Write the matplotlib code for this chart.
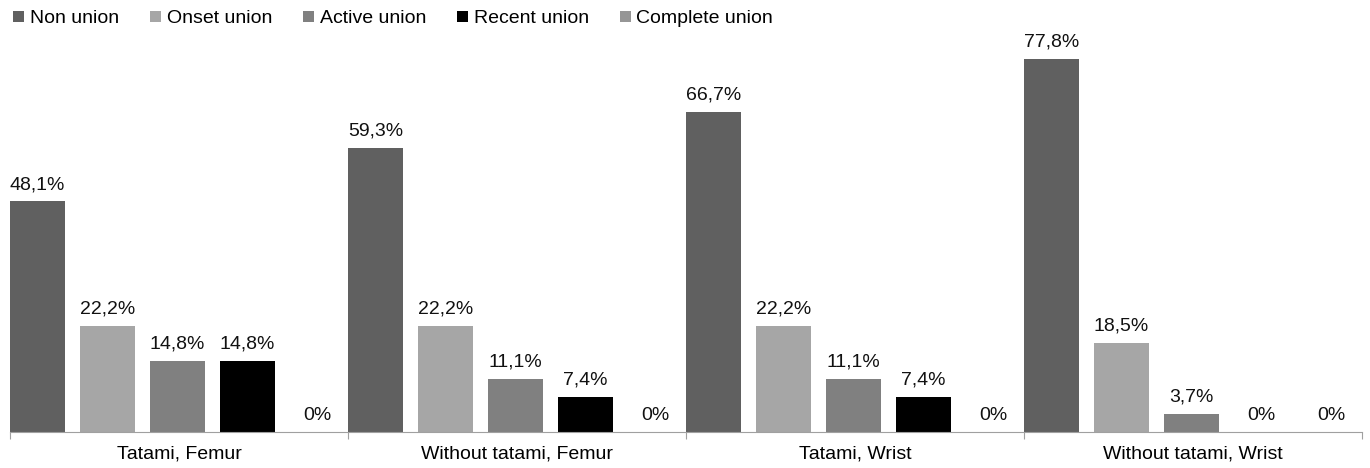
import matplotlib
matplotlib.use("Agg")
import matplotlib.pyplot as plt
import numpy as np

plt.rcParams['font.family'] = ['Liberation Sans', 'DejaVu Sans']

groups = ['Tatami, Femur', 'Without tatami, Femur', 'Tatami, Wrist', 'Without tatami, Wrist']
series = ['Non union', 'Onset union', 'Active union', 'Recent union', 'Complete union']
values = [
    [48.1, 59.3, 66.7, 77.8],   # Non union
    [22.2, 22.2, 22.2, 18.5],   # Onset union
    [14.8, 11.1, 11.1, 3.7],    # Active union
    [14.8, 7.4, 7.4, 0.0],      # Recent union
    [0.0, 0.0, 0.0, 0.0],       # Complete union
]
colors = ['#606060', '#a6a6a6', '#808080', '#000000', '#969696']


def fmt(v):
    if v == 0:
        return '0%'
    return f'{v:.1f}%'.replace('.', ',')


fig = plt.figure(figsize=(13.7, 4.68), dpi=100)
ax = fig.add_axes([10 / 1370, 1 - 432 / 468, 1352 / 1370, (432 - 48.5) / 468])

x = np.arange(len(groups))
width = 55 / 338
step = 70 / 338
handles = []
for k, (name, vals, c) in enumerate(zip(series, values, colors)):
    pos = x + k * step + width / 2
    b = ax.bar(pos, vals, width=width, color=c, label=name)
    handles.append(b)
    for p, v in zip(pos, vals):
        ax.annotate(fmt(v), (p, v), xytext=(0, 6), textcoords='offset points',
                    ha='center', va='bottom', fontsize=14, color='#111111')

ax.set_xlim(0, len(groups))
ax.set_ylim(0, 80)
ax.set_yticks([])
for s in ['top', 'right', 'left']:
    ax.spines[s].set_visible(False)
ax.spines['bottom'].set_color('#a0a0a0')
ax.set_xticks(np.arange(len(groups) + 1))
ax.set_xticklabels([])
ax.tick_params(axis='x', length=5, color='#a0a0a0')
ax.set_xticks(x + 0.5, minor=True)
ax.set_xticklabels(groups, minor=True, fontsize=14)
ax.tick_params(axis='x', which='minor', length=0, pad=10)

fig.legend(handles, series, loc='upper left', bbox_to_anchor=(-0.003, 1.015), ncol=5,
           frameon=False, fontsize=14, handlelength=0.55, handleheight=0.55,
           handletextpad=0.3, columnspacing=1.6)

fig.savefig('out.png', dpi=100)
